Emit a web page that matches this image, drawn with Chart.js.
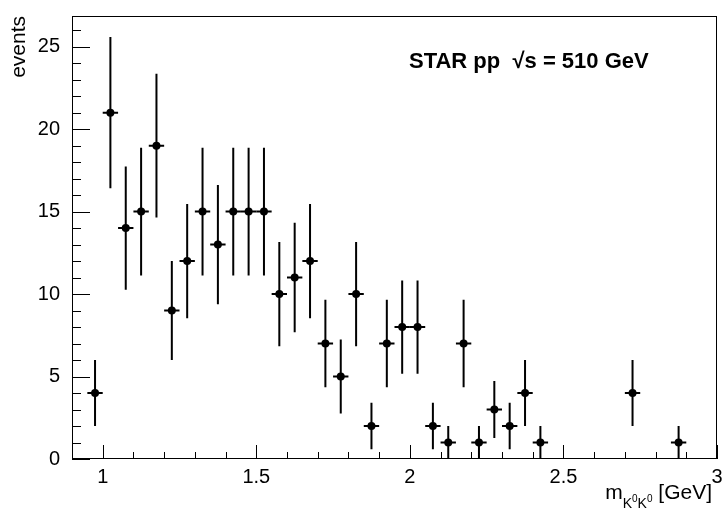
<!DOCTYPE html>
<html>
<head>
<meta charset="utf-8">
<script src="https://cdn.jsdelivr.net/npm/chart.js@4.4.1/dist/chart.umd.min.js"></script>
<style>
    body { margin: 0; background: #fff; }
    canvas { display: block; }
</style>
</head>
<body>
<canvas id="massChart" width="725" height="522"></canvas>
<script>
// bin centres (GeV), only bins with entries
var binCenters = [0.975, 1.025, 1.075, 1.125, 1.175, 1.225, 1.275, 1.325, 1.375, 1.425, 1.475, 1.525,
    1.575, 1.625, 1.675, 1.725, 1.775, 1.825, 1.875, 1.925, 1.975, 2.025, 2.075, 2.125,
    2.175, 2.225, 2.275, 2.325, 2.375, 2.425, 2.725, 2.875];
var binCounts = [4, 21, 14, 15, 19, 9, 12, 15, 13, 15, 15, 15,
    10, 11, 12, 7, 5, 10, 2, 7, 8, 8, 2, 1,
    7, 1, 3, 2, 4, 1, 4, 1];
var binErrors = [2.0, 4.58, 3.74, 3.87, 4.36, 3.0, 3.46, 3.87, 3.61, 3.87, 3.87, 3.87,
    3.16, 3.32, 3.46, 2.65, 2.24, 3.16, 1.41, 2.65, 2.83, 2.83, 1.41, 1.0,
    2.65, 1.0, 1.73, 1.41, 2.0, 1.0, 2.0, 1.0];
var binHalfWidth = 0.025;

var xTickValues = [1, 1.5, 2, 2.5, 3];
var yTickValues = [0, 5, 10, 15, 20, 25];

var FONT = "'Liberation Sans', Arial, Helvetica, sans-serif";

var errorBarPlugin = {
    id: 'errorBars',
    afterDatasetsDraw: function (chart) {
        var ctx = chart.ctx;
        var xs = chart.scales.x, ys = chart.scales.y;
        ctx.save();
        ctx.strokeStyle = '#000';
        ctx.lineWidth = 2;
        binCenters.forEach(function (c, i) {
            var px = xs.getPixelForValue(c);
            var py = ys.getPixelForValue(binCounts[i]);
            ctx.beginPath();
            ctx.moveTo(px, ys.getPixelForValue(binCounts[i] - binErrors[i]));
            ctx.lineTo(px, ys.getPixelForValue(binCounts[i] + binErrors[i]));
            ctx.moveTo(xs.getPixelForValue(c - binHalfWidth), py);
            ctx.lineTo(xs.getPixelForValue(c + binHalfWidth), py);
            ctx.stroke();
        });
        ctx.restore();
    }
};

// ROOT style frame, inward ticks and titles
var frameTitlePlugin = {
    id: 'frameTitles',
    afterDraw: function (chart) {
        var ctx = chart.ctx;
        var a = chart.chartArea;
        var xs = chart.scales.x, ys = chart.scales.y;
        ctx.save();
        ctx.strokeStyle = '#000';
        ctx.lineWidth = 1;
        ctx.strokeRect(a.left + 0.5, a.top + 0.5, a.right - a.left - 1, a.bottom - a.top - 1);

        ctx.beginPath();
        for (var v = 0; v <= 26; v++) {
            var len = v % 5 === 0 ? 18 : 9;
            var y = Math.round(ys.getPixelForValue(v)) + 0.5;
            ctx.moveTo(a.left, y);
            ctx.lineTo(a.left + len, y);
        }
        for (var k = 10; k <= 30; k++) {
            var xl = k % 5 === 0 ? 14 : 7;
            var x = Math.round(xs.getPixelForValue(k / 10)) + 0.5;
            ctx.moveTo(x, a.bottom);
            ctx.lineTo(x, a.bottom - xl);
        }
        ctx.stroke();

        ctx.fillStyle = '#000';
        // y title
        ctx.save();
        ctx.translate(25, a.top);
        ctx.rotate(-Math.PI / 2);
        ctx.font = '21px ' + FONT;
        ctx.textAlign = 'right';
        ctx.textBaseline = 'alphabetic';
        ctx.fillText('events', 0, 0);
        ctx.restore();

        // x title m_{K0K0} [GeV]
        var base = 499;
        ctx.textAlign = 'left';
        ctx.textBaseline = 'alphabetic';
        var big = '21px ' + FONT, sub = '14px ' + FONT, sup = '10px ' + FONT;
        ctx.font = big;
        var wM = ctx.measureText('m').width, wUnit = ctx.measureText(' [GeV]').width;
        ctx.font = sub;
        var wK = ctx.measureText('K').width;
        ctx.font = sup;
        var w0 = ctx.measureText('0').width;
        var total = wM + 2 * (wK + w0) + wUnit;
        var cx = 712 - total;
        ctx.font = big;
        ctx.fillText('m', cx, base);
        cx += wM;
        for (var j = 0; j < 2; j++) {
            ctx.font = sub;
            ctx.fillText('K', cx, base + 9);
            cx += wK;
            ctx.font = sup;
            ctx.fillText('0', cx, base + 3);
            cx += w0;
        }
        ctx.font = big;
        ctx.fillText(' [GeV]', cx, base);

        // label
        ctx.font = 'bold 22px ' + FONT;
        ctx.fillText('STAR pp  \u221As = 510 GeV', 409, 68);
        ctx.restore();
    }
};

var ctx = document.getElementById('massChart').getContext('2d');
var chart = new Chart(ctx, {
    type: 'scatter',
    data: {
        datasets: [{
            data: binCenters.map(function (c, i) { return { x: c, y: binCounts[i] }; }),
            pointRadius: 4,
            pointHoverRadius: 4,
            pointBorderWidth: 0,
            pointBackgroundColor: '#000',
            pointBorderColor: '#000'
        }]
    },
    options: {
        responsive: false,
        animation: false,
        events: [],
        layout: { padding: { left: 0, right: 8, top: 7, bottom: 0 } },
        plugins: {
            legend: { display: false },
            tooltip: { enabled: false }
        },
        scales: {
            x: {
                type: 'linear',
                min: 0.9,
                max: 3.0,
                grid: { display: false },
                border: { display: false },
                afterBuildTicks: function (s) { s.ticks = xTickValues.map(function (v) { return { value: v }; }); },
                afterFit: function (s) { s.height = 63; },
                ticks: {
                    color: '#000',
                    padding: -2,
                    maxRotation: 0,
                    autoSkip: false,
                    font: { family: FONT, size: 20 },
                    callback: function (v) { return String(v); }
                }
            },
            y: {
                type: 'linear',
                min: 0,
                max: 26.86,
                grid: { display: false },
                border: { display: false },
                afterBuildTicks: function (s) { s.ticks = yTickValues.map(function (v) { return { value: v }; }); },
                afterFit: function (s) { s.width = 72; },
                ticks: {
                    color: '#000',
                    padding: 4,
                    autoSkip: false,
                    font: { family: FONT, size: 20 },
                    callback: function (v) { return String(v); }
                }
            }
        }
    },
    plugins: [errorBarPlugin, frameTitlePlugin]
});
</script>
</body>
</html>
